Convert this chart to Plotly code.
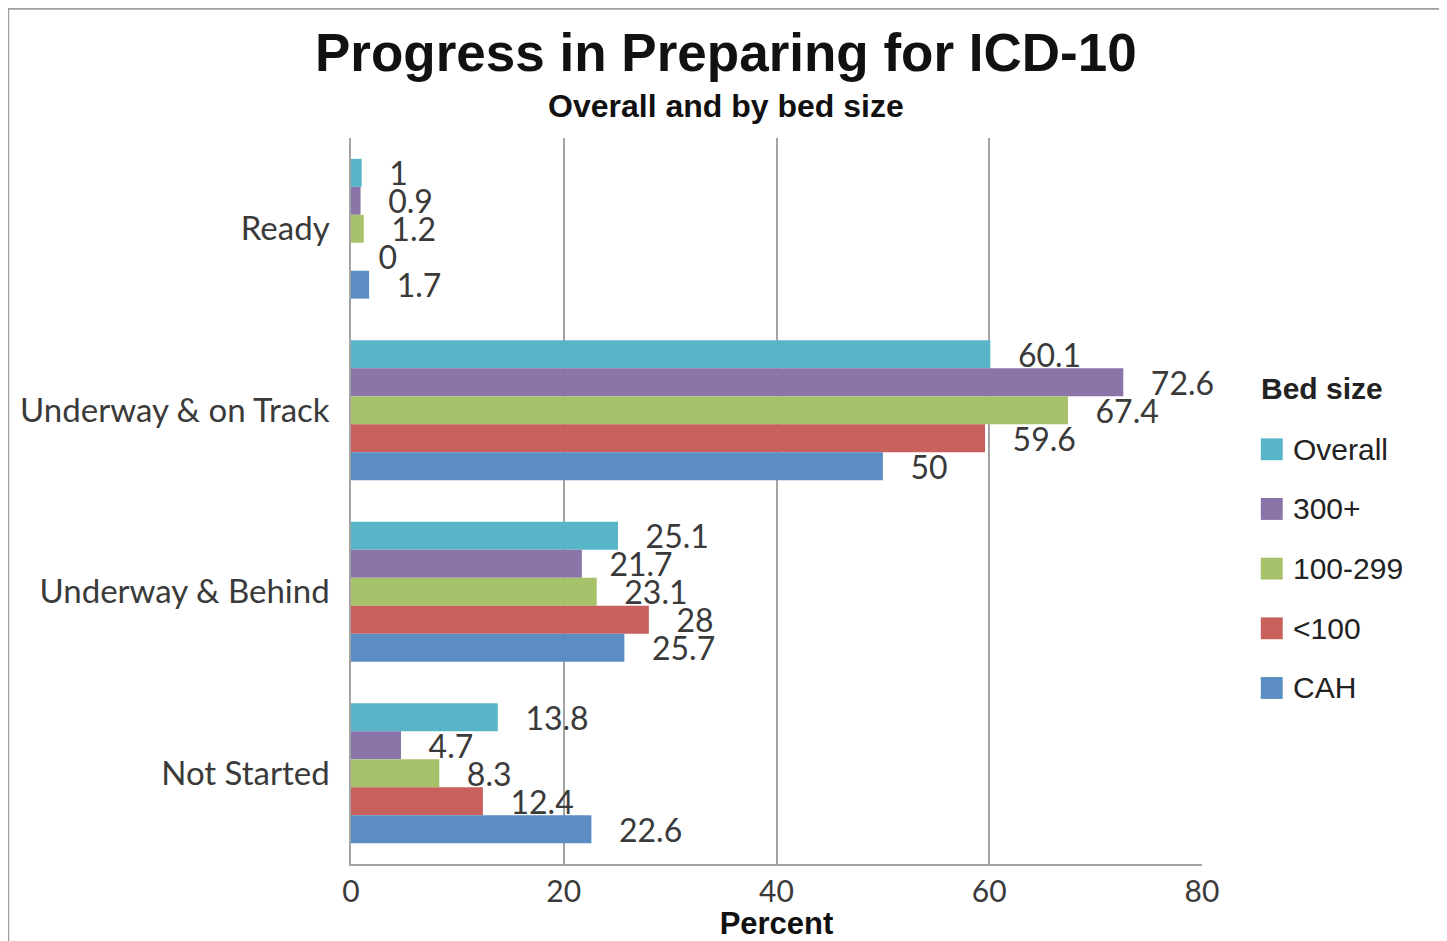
import plotly.graph_objects as go

categories = ["Ready", "Underway & on Track", "Underway & Behind", "Not Started"]
series_names = ["Overall", "300+", "100-299", "<100", "CAH"]
overall = [1, 60.1, 25.1, 13.8]
beds_300_plus = [0.9, 72.6, 21.7, 4.7]
beds_100_299 = [1.2, 67.4, 23.1, 8.3]
beds_under_100 = [0, 59.6, 28, 12.4]
cah = [1.7, 50, 25.7, 22.6]
x_ticks = [0, 20, 40, 60, 80]
colors = ["#58B4C7", "#8B74A8", "#A6C26B", "#C8615B", "#5B8DC3"]

series_values = [overall, beds_300_plus, beds_100_299, beds_under_100, cah]

fig = go.Figure()
for name, vals, col in zip(series_names, series_values, colors):
    fig.add_trace(go.Bar(
        y=categories, x=vals, name=name, orientation="h",
        marker=dict(color=col, line=dict(width=0)),
        text=[f"{v:g}" for v in vals],
        texttemplate="\u00a0\u00a0\u00a0%{text}",
        textposition="outside", constraintext="none", cliponaxis=False,
        textfont=dict(family="Lato", size=32, color="#3A3A3A"),
        showlegend=False,
    ))

# page body has an 8px margin; design in reference pixel coordinates
O = 8
W, H = 1447 - O, 941 - O
L, R, T, B = 348 - O, 1447 - 1202, 138 - O, 941 - 868
pw, ph = W - L - R, H - T - B

def px(x):
    return (x - O - L) / pw

def py(y):
    return (H - B - (y - O)) / ph

annotations = [
    dict(text="<b>Progress in Preparing for ICD-10</b>", xref="paper", yref="paper",
         x=px(724), y=py(52), xanchor="center", yanchor="middle", showarrow=False,
         font=dict(family="Liberation Sans", size=53, color="#111111")),
    dict(text="<b>Overall and by bed size</b>", xref="paper", yref="paper",
         x=px(724), y=py(106), xanchor="center", yanchor="middle", showarrow=False,
         font=dict(family="Liberation Sans", size=32, color="#111111")),
    dict(text="<b>Bed size</b>", xref="paper", yref="paper",
         x=px(1259), y=py(390), xanchor="left", yanchor="middle", showarrow=False,
         font=dict(family="Liberation Sans", size=30, color="#222222")),
]
shapes = [dict(type="rect", xref="paper", yref="paper",
               x0=px(4), x1=px(1441), y0=py(960), y1=py(8),
               line=dict(color="#A0A0A0", width=2), fillcolor="rgba(0,0,0,0)", layer="below")]

# manual legend with large square swatches
for i, (name, col) in enumerate(zip(series_names, colors)):
    cy = 451 + 60 * i
    shapes.append(dict(type="rect", xref="paper", yref="paper",
                       x0=px(1261), x1=px(1283), y0=py(cy + 11), y1=py(cy - 11),
                       line=dict(width=0), fillcolor=col))
    annotations.append(dict(text=name, xref="paper", yref="paper",
                            x=px(1291), y=py(cy), xanchor="left", yanchor="middle",
                            showarrow=False,
                            font=dict(family="Liberation Sans", size=30, color="#222222")))

fig.update_layout(
    width=W, height=H,
    margin=dict(l=L, r=R, t=T, b=B),
    paper_bgcolor="white", plot_bgcolor="white",
    barmode="group", bargap=0.23, bargroupgap=0,
    showlegend=False,
    xaxis=dict(
        range=[0, 80], tickvals=x_ticks, showgrid=True, gridcolor="#A3A3A3", gridwidth=1.5,
        showline=True, linecolor="#A3A3A3", linewidth=1.5, zeroline=False,
        tickfont=dict(family="Lato", size=30, color="#3A3A3A"),
        title=dict(text="<b>Percent</b>", standoff=0,
                   font=dict(family="Liberation Sans", size=31, color="#111111")),
        fixedrange=True,
    ),
    yaxis=dict(
        categoryorder="array", categoryarray=categories, autorange="reversed",
        showline=True, linecolor="#A3A3A3", linewidth=1.5, showgrid=False,
        tickfont=dict(family="Lato", size=33, color="#3A3A3A"),
        ticklabelstandoff=13,
    ),
    annotations=annotations,
    shapes=shapes,
)

fig.write_html("out.html")
